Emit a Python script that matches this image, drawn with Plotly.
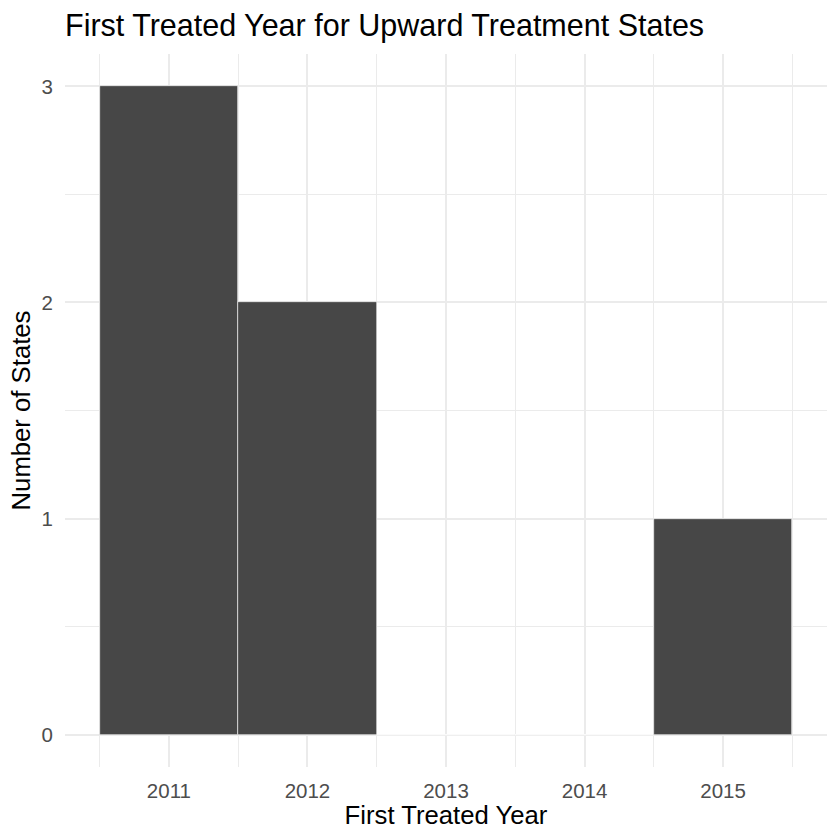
import plotly.graph_objects as go

years = [2011, 2012, 2013, 2014, 2015]
counts = [3, 2, 0, 0, 1]
tick_labels = ["2011", "2012", "2013", "2014", "2015"]

W, H = 840, 840
L, R, T, B = 65, 13, 53.5, 72.5

fig = go.Figure(go.Bar(
    x=years, y=counts, width=1,
    marker=dict(color="#474747", line=dict(color="white", width=0.6)),
    showlegend=False,
))

grid = "#EBEBEB"
font = "Liberation Sans, Arial, Helvetica, sans-serif"

fig.update_layout(
    width=W, height=H,
    margin=dict(l=L, r=R, t=T, b=B, pad=0),
    paper_bgcolor="white", plot_bgcolor="white",
    bargap=0,
    font=dict(family=font, color="black"),
    title=dict(text="First Treated Year for Upward Treatment States",
               x=65 / W, xref="container", xanchor="left",
               y=1 - 25 / H, yref="container", yanchor="middle",
               font=dict(size=30.5, color="black", family=font)),
    xaxis=dict(
        range=[2010.25, 2015.75],
        tickvals=years, ticktext=tick_labels,
        showgrid=True, gridcolor=grid, gridwidth=2.1,
        minor=dict(showgrid=True, gridcolor=grid, gridwidth=1.1, tick0=2010.5, dtick=1),
        zeroline=False, showline=False,
        ticks="", ticklabelstandoff=9,
        tickfont=dict(size=20.5, color="#4D4D4D"),
        title=dict(text="First Treated Year", font=dict(size=25.7, color="black"), standoff=3),
    ),
    yaxis=dict(
        range=[-0.15, 3.15],
        tickvals=[0, 1, 2, 3], ticktext=["0", "1", "2", "3"],
        showgrid=True, gridcolor=grid, gridwidth=2.1,
        minor=dict(showgrid=True, gridcolor=grid, gridwidth=1.1, tick0=0.5, dtick=1),
        zeroline=False, showline=False,
        ticks="", ticklabelstandoff=11,
        tickfont=dict(size=20.5, color="#4D4D4D"),
        title=dict(text="Number of States", font=dict(size=25.7, color="black"), standoff=3),
    ),
)

fig.write_html("out.html")
